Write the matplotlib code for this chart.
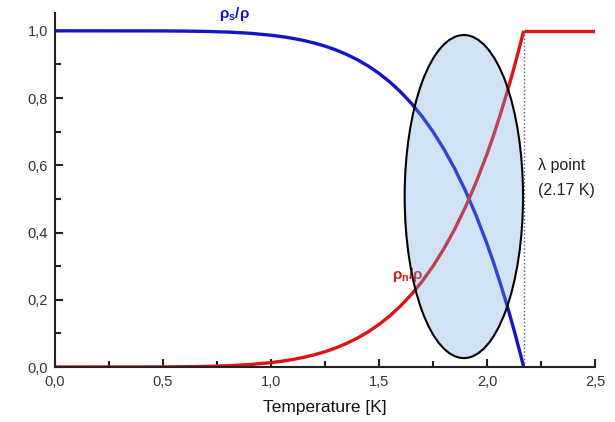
import matplotlib.pyplot as plt
from matplotlib.patches import Ellipse
from matplotlib.ticker import MultipleLocator, FuncFormatter

plt.rcParams['font.family'] = ['Liberation Sans', 'DejaVu Sans']
plt.rcParams['mathtext.fontset'] = 'custom'
plt.rcParams['mathtext.rm'] = 'Liberation Sans'
plt.rcParams['mathtext.it'] = 'Liberation Sans'
plt.rcParams['mathtext.bf'] = 'Liberation Sans:bold'

# Data
temp = [0.0, 0.5, 0.6, 0.7, 0.8, 0.9, 1.0, 1.05, 1.1, 1.15, 1.2, 1.25, 1.3,
        1.35, 1.4, 1.45, 1.5, 1.55, 1.6, 1.65, 1.7, 1.75, 1.8, 1.85, 1.9,
        1.95, 2.0, 2.03, 2.06, 2.09, 2.11, 2.13, 2.15, 2.16, 2.17]
rho_n = [0.0, 0.0003, 0.0008, 0.0018, 0.0037, 0.0072, 0.0131, 0.0172, 0.0223,
         0.0286, 0.0362, 0.0455, 0.0567, 0.0701, 0.086, 0.1046, 0.1265, 0.152,
         0.1816, 0.2157, 0.2549, 0.2998, 0.3511, 0.4093, 0.4753, 0.5496, 0.6333,
         0.6882, 0.7474, 0.8103, 0.8548, 0.901, 0.9495, 0.9745, 1.0]
rho_s = [1 - v for v in rho_n]
temp_above = [2.17, 2.5]
rho_n_above = [1.0, 1.0]
t_lambda = 2.17

fig = plt.figure(figsize=(6.15, 4.22), dpi=100)
ax = fig.add_axes([0.0894, 0.1303, 0.878, 0.8389])

blue = '#1414c8'
red = '#dc1414'
ax.plot(temp, rho_s, color=blue, lw=2.4, solid_capstyle='butt')
ax.plot(temp, rho_n, color=red, lw=2.4, solid_capstyle='butt')
ax.plot(temp_above, rho_n_above, color=red, lw=2.4, solid_capstyle='butt')
ax.plot([t_lambda, t_lambda], [0, 1.0], color='#555555', lw=1, ls=':')

# highlighted region
ell = Ellipse((1.893, 0.507), 0.548, 0.961, facecolor=(0.45, 0.66, 0.86, 0.33),
              edgecolor='black', lw=1.5, zorder=5)
ax.add_patch(ell)

ax.text(0.83, 1.05, r'$\mathbf{\rho_s/\rho}$', color=blue, fontsize=11, ha='center', va='center')
ax.text(1.635, 0.274, r'$\mathbf{\rho_n/\rho}$', color=red, fontsize=11, ha='center', va='center')
ax.text(2.235, 0.60, 'λ point', fontsize=11.5, ha='left', va='center', color='#222222')
ax.text(2.235, 0.525, '(2.17 K)', fontsize=11.5, ha='left', va='center', color='#222222')

ax.set_xlim(0, 2.5)
ax.set_ylim(0, 1.053)
ax.spines['top'].set_visible(False)
ax.spines['right'].set_visible(False)
for s in ['left', 'bottom']:
    ax.spines[s].set_linewidth(1.5)
    ax.spines[s].set_color('#222222')

ax.xaxis.set_major_locator(MultipleLocator(0.5))
ax.xaxis.set_minor_locator(MultipleLocator(0.25))
ax.yaxis.set_major_locator(MultipleLocator(0.2))
ax.yaxis.set_minor_locator(MultipleLocator(0.1))
comma = FuncFormatter(lambda v, p: f'{v:.1f}'.replace('.', ','))
ax.xaxis.set_major_formatter(comma)
ax.yaxis.set_major_formatter(comma)
ax.tick_params(which='both', direction='in', width=1.5, color='#222222',
               labelsize=10.5, labelcolor='#333333')
ax.tick_params(which='major', length=6)
ax.tick_params(which='minor', length=4)
ax.tick_params(axis='x', which='major', pad=6)
ax.tick_params(axis='y', which='major', pad=5)
ax.set_xlabel('Temperature [K]', fontsize=12.5, color='#111111', labelpad=8)

fig.savefig('out.png', dpi=100)
